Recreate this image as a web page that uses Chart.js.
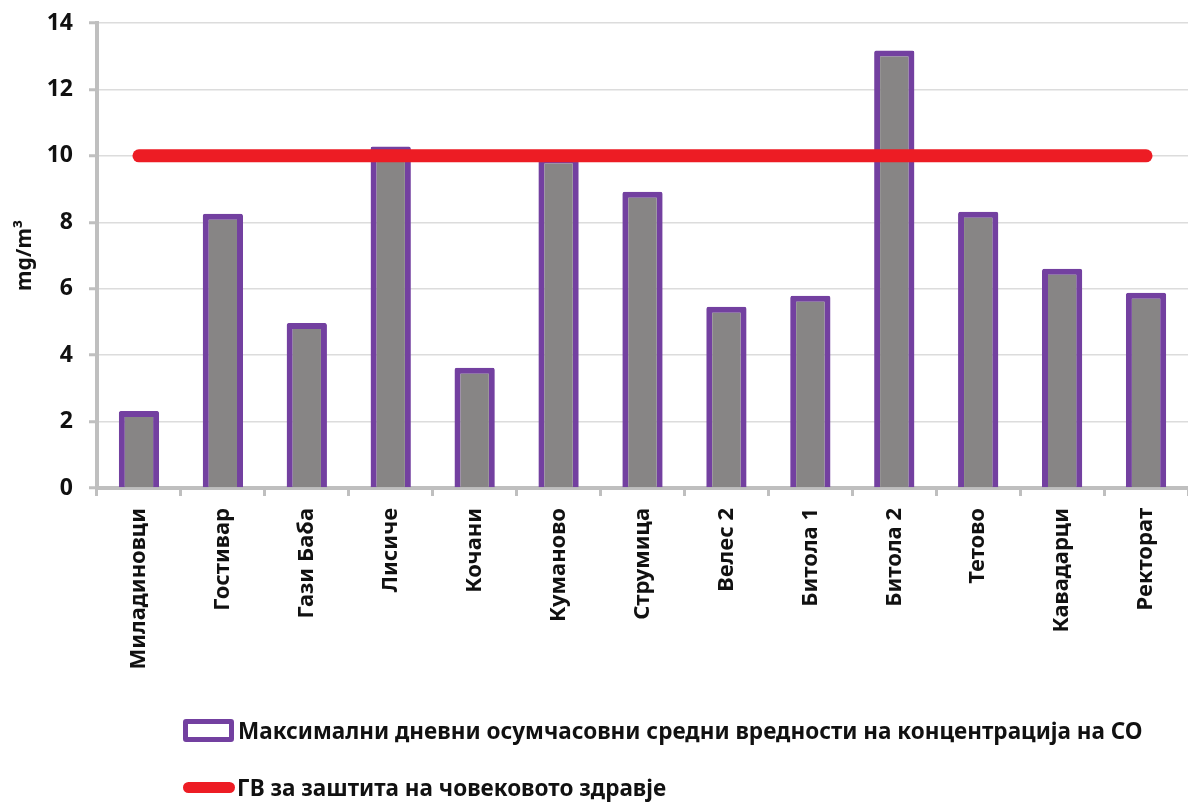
<!DOCTYPE html>
<html lang="mk">
<head>
  <meta charset="UTF-8" />
  <title>CO - максимални дневни осумчасовни средни вредности</title>
  <script src="https://cdn.jsdelivr.net/npm/chart.js"></script>
  <style>
    body { margin: 0; background: white; font-family: "Noto Sans", sans-serif; }
    #wrap { position: relative; width: 1188px; height: 802px; }
    .legend { position: absolute; left: 183px; top: 712px; font-weight: bold; font-size: 22.5px; color: #111; }
    .row { display: flex; align-items: center; height: 36px; margin-bottom: 21px; }
    .box { width: 41px; height: 13px; border: 5px solid #7340a0; border-radius: 3px; background: white; margin-right: 4px; }
    .line { width: 52px; height: 11px; border-radius: 6px; background: #ed1c24; margin-right: 2px; }
  </style>
</head>
<body>
  <div id="wrap">
    <canvas id="coChart"></canvas>
    <div class="legend">
      <div class="row"><span class="box"></span>Максимални дневни осумчасовни средни вредности на концентрација на CO</div>
      <div class="row"><span class="line"></span>ГВ за заштита на човековото здравје</div>
    </div>
  </div>

  <script>
    const stations = ['Миладиновци', 'Гостивар', 'Гази Баба', 'Лисиче', 'Кочани', 'Куманово', 'Струмица',
                      'Велес 2', 'Битола 1', 'Битола 2', 'Тетово', 'Кавадарци', 'Ректорат'];
    const maxValues = [2.32, 8.26, 4.97, 10.28, 3.62, 9.95, 8.92, 5.46, 5.79, 13.17, 8.32, 6.6, 5.88];
    const limitValues = [10, 10, 10, 10, 10, 10, 10, 10, 10, 10, 10, 10, 10];
    const yTicks = [0, 2, 4, 6, 8, 10, 12, 14];

    const ctx = document.getElementById('coChart').getContext('2d');
    new Chart(ctx, {
      data: {
        labels: stations,
        datasets: [
          {
            type: 'line',
            label: 'ГВ за заштита на човековото здравје',
            data: limitValues,
            borderColor: '#ed1c24',
            borderWidth: 13,
            borderCapStyle: 'round',
            pointRadius: 0,
            order: 0
          },
          {
            type: 'bar',
            label: 'Максимални дневни осумчасовни средни вредности на концентрација на CO',
            data: maxValues,
            backgroundColor: '#878585',
            borderColor: '#7340a0',
            borderWidth: 6,
            borderRadius: 2,
            barPercentage: 0.48,
            categoryPercentage: 1,
            order: 1
          }
        ]
      },
      options: {
        responsive: true,
        maintainAspectRatio: false,
        animation: false,
        layout: { padding: { top: 23, right: 0, bottom: 0, left: 0 } },
        plugins: { legend: { display: false }, tooltip: { enabled: false } },
        scales: {
          x: {
            offset: true,
            grid: { offset: true, drawOnChartArea: false, color: '#bfbfbf', tickLength: 8, lineWidth: 3 },
            border: { color: '#bfbfbf', width: 4 },
            ticks: {
              color: '#111',
              font: { family: 'Noto Sans', size: 22, weight: 'bold' },
              minRotation: 90, maxRotation: 90, padding: 12, autoSkip: false
            },
            afterFit: function (scale) { scale.height = 314; scale.paddingLeft = 0; scale.paddingRight = 0; }
          },
          y: {
            min: 0, max: 14,
            afterBuildTicks: function (scale) { scale.ticks = yTicks.map(v => ({ value: v })); },
            grid: { color: '#dcdcdc', lineWidth: 1.5, tickColor: '#bfbfbf', tickLength: 8, tickWidth: 3 },
            border: { color: '#bfbfbf', width: 4 },
            ticks: {
              color: '#111',
              font: { family: 'Noto Sans', size: 23, weight: 'bold' },
              padding: 16
            },
            title: {
              display: true,
              text: 'mg/m³',
              color: '#111',
              font: { family: 'Noto Sans', size: 21, weight: 'bold' },
              padding: { top: 12, bottom: 0 }
            },
            afterFit: function (scale) { scale.width = 97; scale.paddingTop = 0; scale.paddingBottom = 0; }
          }
        }
      }
    });
  </script>
</body>
</html>
